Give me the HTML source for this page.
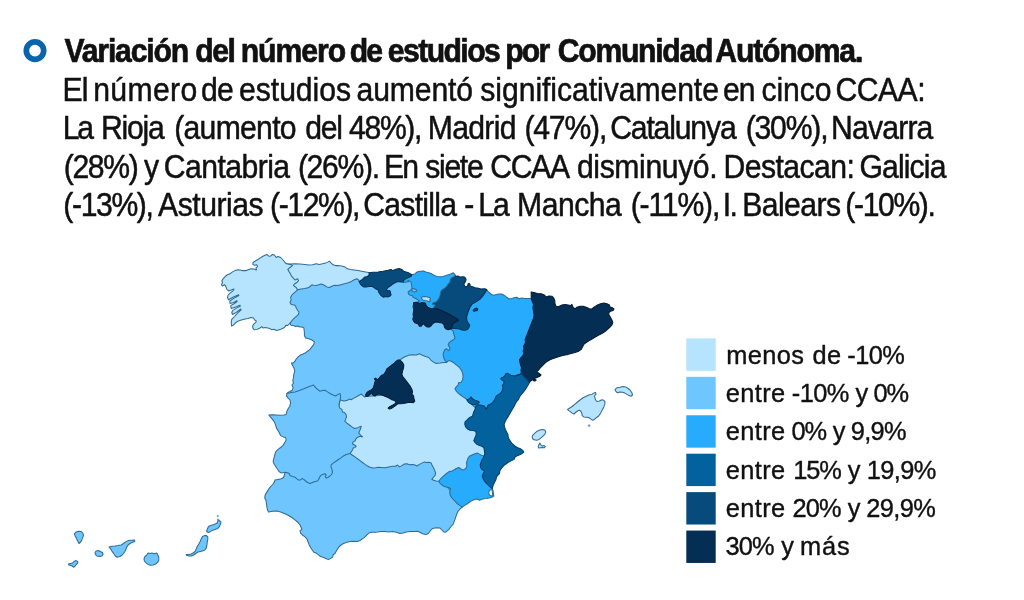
<!DOCTYPE html>
<html><head><meta charset="utf-8">
<style>
html,body{margin:0;padding:0;background:#fff;}
body{width:1024px;height:600px;position:relative;overflow:hidden;font-family:"Liberation Sans",sans-serif;color:#111;}
</style></head><body>
<svg style="position:absolute;left:0;top:0;will-change:transform" width="1024" height="600" viewBox="0 0 1024 600">
<circle cx="35" cy="50.6" r="8.7" fill="none" stroke="#0a64ac" stroke-width="5.7"/>
<path d="M290.1,323.3 291.0,325.2 293.3,325.6 295.7,326.6 297.6,326.1 299.9,327.0 302.2,327.0 303.9,328.0 304.4,332.5 304.4,335.6 305.6,338.1 308.8,338.8 311.9,340.0 314.4,341.9 313.8,344.4 311.9,346.9 310.0,349.4 307.5,351.2 305.6,352.8 303.1,354.0 300.6,355.0 298.1,356.9 296.2,359.0 295.0,361.2 293.1,363.1 291.5,363.1 292.5,365.6 294.0,368.1 294.8,371.2 293.8,374.4 293.5,377.5 292.8,380.6 293.5,383.1 291.9,385.0 293.1,387.5 292.5,390.0 290.0,391.5 287.5,392.8 286.9,393.5 300.0,402.0 345.0,412.0 385.0,395.0 420.0,385.0 455.0,372.0 465.0,335.0 445.0,300.0 425.0,280.0 400.0,275.0 385.0,275.0 360.0,274.0 300.0,276.0 285.0,290.0 283.0,300.0Z" fill="#6fc6fe" stroke="#2f6c94" stroke-width="1.05" stroke-linejoin="round"/>
<path d="M340.2,399.4 341.2,400.2 343.8,401.0 346.9,400.6 349.4,399.0 351.2,399.8 353.8,398.1 356.9,396.5 359.4,395.0 361.2,394.0 363.1,395.6 364.4,396.9 366.0,396.5 385.0,395.0 399.0,360.0 401.2,359.0 403.8,357.2 406.2,356.2 409.4,355.0 412.5,354.8 416.2,355.0 419.4,353.8 422.5,355.2 425.6,356.5 428.8,357.5 430.6,359.8 433.1,361.9 436.2,363.5 440.0,363.1 443.8,362.5 446.5,362.5 452.0,352.0 470.0,360.0 485.0,405.0 492.0,460.0 450.0,492.0 400.0,484.0 345.0,466.0 336.0,420.0Z" fill="#b6e3fd" stroke="#2f6c94" stroke-width="1.05" stroke-linejoin="round"/>
<path d="M486.6,289.6 488.5,291.9 491.0,294.0 492.9,295.2 495.4,294.8 498.5,294.0 501.6,294.0 504.1,295.2 506.6,297.2 509.1,299.0 511.6,298.5 514.1,297.8 516.6,297.2 519.1,298.8 521.6,298.1 524.8,298.5 528.5,298.5 531.2,298.5 545.0,310.0 540.0,340.0 535.0,372.0 510.0,390.0 495.0,402.0 480.0,412.0 466.9,399.8 465.6,398.5 463.1,396.9 460.6,395.0 458.1,393.1 456.2,391.0 455.0,388.8 456.2,386.9 458.1,385.0 458.8,382.5 461.2,382.2 462.5,380.0 463.1,376.9 462.8,373.8 461.9,371.2 460.6,369.0 458.8,366.9 456.2,364.8 453.8,362.8 451.2,361.2 448.8,360.6 446.5,362.2 445.6,361.2 444.4,359.4 443.5,356.9 443.1,354.4 443.8,351.9 444.8,349.8 446.5,348.8 448.8,350.6 450.0,348.8 449.4,346.9 448.1,345.0 449.0,342.8 451.0,341.2 453.1,340.0 455.0,338.1 454.4,336.2 453.8,333.8 453.1,331.2 451.2,329.0 458.0,320.0 475.0,300.0Z" fill="#27abfd" stroke="#2f6c94" stroke-width="1.05" stroke-linejoin="round"/>
<path d="M285.2,472.2 284.4,475.0 283.5,477.5 281.2,478.8 278.1,479.4 275.0,480.0 274.4,481.9 273.1,484.0 271.2,486.0 269.4,488.1 267.8,490.6 266.2,493.1 265.0,495.6 264.8,498.1 266.0,500.6 266.5,503.8 266.9,506.9 267.5,510.0 268.5,511.9 268.8,511.9 272.5,511.2 276.9,511.0 280.6,511.9 284.4,513.5 288.1,515.2 291.9,517.5 295.0,519.8 298.1,522.5 300.0,525.0 301.2,527.5 301.9,529.4 300.0,530.6 300.6,533.1 302.5,535.0 305.0,536.9 306.9,538.8 307.8,541.2 309.0,544.4 310.6,547.5 312.2,550.0 313.8,552.2 316.2,553.1 318.5,554.8 320.6,556.5 323.8,557.5 326.2,558.8 328.8,559.4 331.2,558.1 332.8,556.9 333.1,554.8 335.0,553.5 336.2,551.2 337.5,549.0 339.0,546.9 341.0,545.0 343.5,543.5 346.9,542.2 350.0,541.5 353.8,541.2 357.5,541.5 360.0,540.6 362.5,538.8 365.0,536.9 366.9,534.8 368.8,533.1 371.9,532.2 375.0,532.2 377.5,532.0 381.2,531.5 385.0,531.5 388.8,531.9 392.5,531.5 396.2,532.2 400.0,533.5 403.1,533.1 406.2,531.9 410.0,531.5 413.8,531.5 417.5,531.2 420.0,532.2 422.5,533.8 425.6,534.4 428.1,533.8 430.0,531.2 431.9,529.0 434.4,528.1 437.5,527.8 440.0,528.1 441.9,530.0 443.8,531.9 445.6,532.2 447.5,530.6 449.4,528.8 451.2,526.2 453.1,524.4 454.0,521.9 455.0,519.4 456.0,516.2 456.9,513.8 458.1,511.2 460.0,509.0 462.2,507.2 455.0,495.0 445.0,485.0 438.8,481.2 436.2,481.0 433.8,480.2 431.9,479.4 433.1,477.5 435.0,475.6 435.6,473.1 434.8,470.6 433.5,467.8 432.2,465.6 431.2,463.1 428.8,462.2 426.2,462.5 424.4,461.9 421.9,463.1 419.4,464.4 416.9,466.0 415.0,465.0 412.5,464.4 409.4,464.8 406.9,463.8 404.4,464.0 401.9,465.6 399.4,466.9 397.5,465.0 395.6,466.2 392.5,466.2 388.8,466.9 385.0,467.8 381.2,467.5 378.1,467.2 375.6,467.8 373.1,468.1 370.0,467.2 367.5,466.0 365.0,464.4 362.5,462.5 360.0,460.6 357.5,458.8 355.0,456.9 352.5,455.2 350.0,453.5 335.0,440.0 300.0,450.0Z" fill="#6fc6fe" stroke="#2f6c94" stroke-width="1.05" stroke-linejoin="round"/>
<path d="M286.9,393.5 286.5,396.2 288.1,398.1 290.0,400.0 290.6,403.1 289.8,406.2 288.1,408.8 286.9,411.2 286.2,414.4 283.8,415.0 280.0,415.2 276.2,415.0 272.5,414.8 268.8,415.0 270.6,417.2 272.5,419.4 274.4,421.9 275.6,425.0 276.5,428.1 278.1,430.6 279.4,433.1 280.6,435.6 283.1,436.9 285.6,437.5 286.2,440.0 284.4,443.1 282.8,445.6 280.6,447.5 278.1,449.4 275.6,451.9 274.8,455.0 274.0,458.1 273.1,461.2 274.0,463.8 275.6,466.2 277.2,468.8 278.8,471.2 280.6,472.8 283.1,472.8 285.2,472.2 287.5,472.8 289.4,473.8 290.0,475.6 292.5,476.5 295.0,477.2 296.9,478.8 298.8,480.2 300.6,479.8 301.9,478.5 303.8,479.4 305.6,481.0 307.5,482.5 310.0,483.5 312.5,482.5 315.0,481.5 317.5,481.0 318.8,479.4 319.4,477.5 320.6,475.6 322.5,474.4 324.8,473.8 326.2,474.8 325.2,476.5 326.2,478.1 328.1,477.2 330.0,476.0 331.9,474.0 332.5,471.9 331.9,469.4 331.0,466.9 331.2,464.8 333.1,463.1 335.6,461.5 338.1,459.8 340.6,458.1 343.1,456.2 345.6,454.8 348.1,454.0 350.0,453.5 351.2,451.9 352.5,450.0 353.1,448.1 355.0,447.5 356.2,446.2 354.4,445.0 352.5,443.8 353.1,441.9 355.0,441.0 356.0,438.8 357.8,437.2 360.0,436.2 362.5,436.9 360.6,435.0 358.8,433.1 359.4,431.2 360.6,428.8 361.2,426.2 359.4,426.9 356.9,428.1 354.4,428.5 351.9,426.9 349.4,425.0 346.9,423.1 344.8,421.2 345.6,419.4 346.5,416.9 346.0,414.4 344.4,412.5 342.5,411.9 341.9,409.4 339.8,408.1 339.0,405.6 339.4,402.5 340.2,399.4 340.6,396.2 340.0,393.5 338.1,394.4 335.6,396.0 332.5,394.8 330.0,393.5 327.5,391.9 325.0,390.2 322.5,390.6 320.0,391.2 317.5,389.4 315.0,386.9 313.5,385.0 311.9,385.6 308.1,386.9 303.8,388.8 299.4,390.6 295.0,391.9 291.2,392.5Z" fill="#6fc6fe" stroke="#2f6c94" stroke-width="1.05" stroke-linejoin="round"/>
<path d="M462.2,507.2 464.4,505.6 466.9,504.0 469.4,502.2 471.9,500.6 475.0,499.4 477.5,499.0 479.4,500.2 481.2,499.4 483.8,498.8 486.9,498.5 490.0,497.8 492.5,496.9 493.8,496.0 493.5,493.8 493.1,491.2 492.5,488.8 492.0,478.0 488.0,462.0 484.0,456.0 481.9,455.6 480.0,454.4 477.5,453.1 475.0,453.8 471.9,455.0 469.4,456.2 468.1,458.1 467.2,460.6 466.5,463.1 466.9,465.6 466.2,467.8 464.4,469.4 462.5,470.0 460.6,468.8 458.8,467.5 456.2,468.5 454.4,469.8 451.9,471.0 449.4,471.5 446.9,473.1 444.8,475.0 442.5,476.9 440.6,478.8 438.8,481.2 440.0,483.1 441.9,485.0 443.8,486.2 446.2,486.9 448.8,487.5 450.6,488.8 449.8,491.2 450.0,494.4 451.2,496.9 452.8,499.0 455.0,501.2 457.5,503.8 460.0,505.6Z" fill="#27abfd" stroke="#2f6c94" stroke-width="1.05" stroke-linejoin="round"/>
<path d="M531.2,291.9 533.8,292.5 537.5,293.5 541.2,293.8 544.4,295.0 546.2,296.9 548.8,296.0 551.9,296.2 553.8,298.1 554.8,300.6 555.0,303.8 556.0,306.2 558.8,306.5 561.9,305.0 565.0,304.4 568.1,305.0 570.6,305.6 571.9,304.4 573.1,307.5 575.0,308.8 576.9,307.2 580.0,306.2 583.1,306.2 586.2,307.2 589.4,308.8 591.9,309.0 594.4,306.9 597.5,305.0 600.6,303.8 603.8,303.1 606.9,303.8 609.4,305.0 610.0,306.9 612.5,307.8 614.0,309.0 613.1,310.6 610.6,311.2 608.8,312.8 609.0,315.0 610.6,317.5 611.9,320.0 612.8,322.5 611.9,325.0 610.0,327.2 607.5,329.4 605.0,331.5 601.9,333.5 598.8,335.0 595.6,336.9 592.5,338.8 589.4,340.6 586.2,342.5 583.8,344.4 582.5,346.9 581.2,349.4 578.8,351.2 575.0,352.5 571.2,353.5 567.5,354.5 568.0,354.4 563.8,355.2 560.0,356.2 556.2,357.5 552.5,358.8 550.0,359.8 547.5,361.2 545.0,363.1 542.5,365.6 540.0,368.1 538.1,370.6 536.2,372.2 538.8,373.1 541.0,375.0 539.4,376.5 536.9,377.5 534.4,378.5 532.5,379.8 530.6,381.0 529.8,381.9 520.0,385.0 515.0,376.0 521.5,373.5 521.0,370.6 521.5,367.5 520.6,365.0 520.0,362.5 519.4,360.0 520.6,358.1 522.5,356.2 523.8,353.8 523.1,351.2 524.0,348.8 523.5,346.2 525.0,343.8 525.6,341.2 525.0,340.0 533.5,318.1 534.1,315.0 533.5,311.2 532.9,307.5 533.5,304.4 532.2,301.2 531.2,298.5Z" fill="#052e54" stroke="#031d36" stroke-width="1.05" stroke-linejoin="round"/>
<path d="M529.8,381.9 528.8,383.8 527.5,386.0 526.2,388.1 525.0,390.0 523.5,391.9 521.9,393.8 520.2,396.0 519.0,398.1 518.1,400.0 516.9,401.2 515.6,403.1 514.8,405.0 514.8,405.0 513.5,407.5 511.6,410.6 509.8,413.8 507.9,416.9 506.2,419.4 505.0,421.9 504.1,424.4 504.5,426.9 505.4,429.4 506.6,431.9 507.9,434.4 508.2,436.9 509.1,439.4 510.8,441.9 512.5,444.0 514.8,446.0 517.2,447.5 520.4,448.8 522.9,450.6 523.8,452.2 521.6,453.8 519.1,455.0 516.6,456.0 514.8,457.2 514.1,459.4 511.6,460.6 509.1,461.9 506.6,463.5 504.1,465.2 502.5,467.2 501.0,468.8 499.8,471.0 499.5,473.5 497.9,475.0 496.6,476.9 495.8,480.0 494.4,482.5 493.1,485.6 492.2,488.5 490.0,486.9 488.1,485.0 486.2,483.1 484.4,481.0 483.1,478.8 482.2,476.2 483.1,473.8 484.4,471.2 481.5,469.0 480.6,467.5 480.2,465.0 481.0,462.5 481.9,460.0 483.1,458.1 484.0,456.0 484.8,453.8 484.4,450.6 483.8,447.5 481.9,446.2 479.4,445.6 476.9,444.4 475.0,442.5 473.8,440.6 474.8,438.1 476.0,435.6 476.2,433.1 475.6,431.2 473.1,430.6 470.0,430.2 467.5,429.0 465.6,426.9 464.8,424.4 465.0,421.9 466.9,420.0 468.8,418.1 470.6,416.9 472.5,416.2 473.1,413.8 474.0,411.2 474.0,412.5 474.8,410.0 475.6,407.5 476.2,405.0 478.8,404.8 481.2,405.2 484.4,406.0 486.2,409.4 487.5,406.9 488.1,405.0 490.0,404.4 491.9,403.1 493.8,401.2 495.0,398.8 496.2,396.2 498.1,394.8 500.0,393.8 501.5,391.9 502.5,389.8 503.1,387.5 502.2,385.6 503.8,383.8 504.0,381.2 502.5,380.2 501.0,379.4 501.2,377.8 503.1,377.2 504.8,376.0 505.6,374.0 507.5,373.1 509.4,374.4 511.9,375.6 515.0,376.0 518.1,375.2 520.0,374.4 521.5,373.5 523.1,375.6 525.0,377.5 526.9,379.4 528.1,381.2Z" fill="#03619e" stroke="#033f6b" stroke-width="1.05" stroke-linejoin="round"/>
<path d="M466.9,399.8 469.4,398.8 471.0,396.9 472.5,398.8 475.0,400.2 477.5,401.0 479.4,402.2 477.5,403.8 475.0,404.4 471.9,404.4 469.4,403.1 467.8,401.5Z" fill="#03619e" stroke="#033f6b" stroke-width="1.05" stroke-linejoin="round"/>
<path d="M455.2,275.3 456.3,276.4 457.9,276.0 459.5,276.8 461.0,277.1 462.6,276.8 464.6,277.1 465.7,278.3 466.1,279.9 465.3,281.9 464.2,283.4 464.0,285.0 464.9,286.2 466.5,286.6 467.7,285.8 468.1,283.8 469.3,283.4 470.1,284.6 469.6,285.8 471.2,286.2 473.2,286.9 475.1,287.7 477.2,288.1 481.0,289.0 484.8,288.8 486.6,289.6 486.0,291.2 484.8,293.1 483.5,295.0 481.6,297.5 479.8,299.4 477.2,301.0 474.8,302.5 472.2,304.0 471.0,305.6 469.8,307.5 468.8,310.0 467.9,312.5 467.2,315.0 466.6,317.5 466.9,320.6 468.1,323.1 469.8,325.0 468.8,327.5 467.5,329.4 465.0,330.2 461.9,330.0 460.0,329.0 457.5,328.8 455.0,328.5 452.5,328.1 451.2,329.0 440.0,318.0 425.0,305.0 432.0,296.0 435.2,305.0 434.4,304.2 432.8,304.6 432.4,303.4 433.6,302.6 435.2,302.2 436.7,301.8 437.1,300.6 438.3,299.5 439.1,297.9 439.9,295.9 440.3,294.0 440.7,292.0 441.4,290.5 443.0,289.3 445.4,287.7 446.9,286.2 447.7,284.6 449.3,283.0 450.1,281.1 450.5,279.1 452.0,277.5 454.0,276.8Z" fill="#064b7b" stroke="#04304f" stroke-width="1.05" stroke-linejoin="round"/>
<path d="M412.9,274.4 414.8,274.0 416.0,272.8 417.6,271.7 420.3,271.3 423.4,270.9 425.8,271.9 428.9,272.8 432.0,274.0 434.4,275.6 436.7,276.6 439.9,276.8 443.0,276.4 446.1,275.6 449.3,274.6 451.6,273.5 453.2,272.8 454.4,273.8 455.2,275.3 454.0,276.8 452.0,277.5 450.5,279.1 450.1,281.1 449.3,283.0 447.7,284.6 446.9,286.2 445.4,287.7 443.0,289.3 441.4,290.5 440.7,292.0 440.3,294.0 439.9,295.9 439.1,297.9 438.3,299.5 437.1,300.6 436.7,301.8 435.2,302.2 433.6,302.6 432.4,303.4 432.8,304.6 434.4,304.2 435.2,305.0 432.0,310.0 420.0,308.0 414.2,302.8 417.2,302.4 419.5,301.0 417.9,299.9 415.2,298.3 412.9,297.1 412.4,295.6 410.1,295.2 408.5,294.0 408.1,292.0 410.1,290.5 412.1,288.5 411.7,285.4 410.9,281.9 407.8,280.3 408.4,281.8 403.5,282.6 402.5,279.0 400.0,276.0 408.0,274.5Z" fill="#27abfd" stroke="#2f6c94" stroke-width="1.05" stroke-linejoin="round"/>
<path d="M412.1,288.5 414.0,288.7 416.0,289.7 416.8,290.6 416.0,291.6 414.4,292.0 412.9,291.4 411.7,290.5Z" fill="#6fc6fe" stroke="#2f6c94" stroke-width="1.05" stroke-linejoin="round"/>
<path d="M413.8,302.5 416.9,302.2 419.4,303.5 421.9,302.5 425.0,303.1 426.2,305.6 428.1,307.5 430.6,308.5 433.8,308.8 436.9,308.8 439.4,309.8 442.5,311.0 445.6,312.5 448.8,314.0 451.9,316.0 455.0,317.8 457.5,319.0 458.5,320.2 456.9,321.5 454.4,322.5 452.5,324.4 451.9,326.9 450.6,329.0 448.1,329.8 445.6,328.8 444.4,326.9 444.0,324.8 442.5,323.1 440.0,322.8 437.5,321.9 435.0,322.2 432.8,323.5 431.2,325.6 429.8,326.9 426.9,326.9 425.0,325.6 424.4,323.8 422.5,324.4 421.2,326.2 419.4,326.2 418.5,324.4 416.9,323.5 414.8,322.8 413.5,321.0 412.8,319.0 413.5,316.9 413.1,314.4 413.5,311.9 413.8,309.4 413.1,306.9 413.5,304.4Z" fill="#052e54" stroke="#031d36" stroke-width="1.05" stroke-linejoin="round"/>
<path d="M286.5,263.8 290.0,264.0 295.0,263.8 300.0,264.0 305.0,264.4 308.8,265.0 312.5,264.8 316.2,263.8 319.4,264.4 322.5,263.8 325.6,263.1 328.1,261.9 329.4,261.2 331.2,263.1 333.1,264.8 335.6,265.6 338.0,265.6 341.8,266.0 344.9,266.9 347.4,268.8 350.5,269.4 354.2,270.0 358.0,270.6 363.0,271.5 368.6,272.5 372.0,276.0 372.0,284.0 359.2,281.5 358.6,280.0 356.8,278.8 354.2,279.8 351.8,281.2 349.2,282.5 345.5,283.5 341.8,284.4 338.0,285.6 334.4,285.2 331.9,286.2 329.4,287.5 326.9,286.9 323.8,285.0 321.2,284.0 318.8,284.8 316.2,285.6 313.8,285.2 311.9,284.8 308.8,287.5 305.0,288.5 301.2,289.0 297.5,289.8 292.0,285.0 288.0,270.0Z" fill="#b6e3fd" stroke="#2f6c94" stroke-width="1.05" stroke-linejoin="round"/>
<path d="M369.0,272.8 373.0,272.2 378.0,271.9 383.0,271.2 388.0,270.2 391.1,269.4 392.4,270.6 394.2,270.0 396.8,269.0 399.2,268.5 401.8,269.4 403.6,271.2 406.1,271.9 409.2,273.1 411.8,274.8 411.1,276.2 408.0,277.8 405.5,278.8 403.6,280.6 403.0,282.1 400.5,281.9 398.0,281.5 394.9,282.8 392.4,284.4 389.9,286.2 387.4,288.1 386.5,290.0 388.0,291.0 389.9,290.6 390.5,292.5 391.1,295.0 389.9,296.2 387.4,296.9 385.5,296.5 383.6,297.2 381.1,295.6 379.9,294.0 378.6,291.9 378.0,289.8 375.5,288.8 373.6,287.2 371.8,286.2 369.2,286.5 366.1,286.9 363.6,286.9 361.8,285.6 360.2,283.8 359.2,281.5 360.5,280.6 363.0,279.0 364.2,277.2 367.4,276.5 369.2,275.0Z" fill="#064b7b" stroke="#04304f" stroke-width="1.05" stroke-linejoin="round"/>
<path d="M286.5,263.8 285.0,262.5 283.1,260.0 280.6,257.5 278.1,256.5 276.2,257.5 274.4,255.0 272.5,254.4 270.6,256.0 268.8,256.2 266.9,254.4 265.0,255.2 262.5,256.5 260.0,258.1 257.5,259.8 255.0,261.2 253.1,262.5 252.8,264.4 254.4,265.2 256.9,264.8 257.5,266.5 256.0,268.1 256.5,270.0 253.8,269.0 251.2,268.8 248.8,269.4 246.2,270.6 242.5,270.6 238.1,269.8 235.0,270.6 232.5,271.9 230.0,273.8 226.9,275.0 224.8,276.9 223.1,278.8 221.9,280.6 222.5,282.5 221.5,284.8 222.5,286.0 224.8,284.8 226.0,286.9 226.9,289.4 228.8,291.0 231.9,289.8 234.0,289.0 233.0,290.8 230.0,293.1 228.1,295.0 227.5,297.5 228.5,299.8 233.5,297.0 238.5,294.8 238.9,295.5 234.2,298.1 229.8,301.0 230.0,303.5 233.8,302.5 236.8,300.6 237.1,301.5 234.0,303.8 231.0,305.4 230.8,307.0 231.4,308.5 235.6,307.0 240.0,305.2 240.4,306.1 236.0,308.4 232.5,310.6 231.8,313.0 232.6,314.5 236.9,311.9 240.8,309.0 241.1,309.9 237.5,313.2 234.5,316.5 232.2,318.8 231.5,320.0 231.3,321.9 231.5,326.1 233.3,325.2 235.7,322.8 238.5,320.9 241.3,320.0 244.1,319.2 247.9,318.6 251.2,317.4 253.5,317.9 254.4,319.8 256.3,320.9 255.8,322.3 254.0,323.8 252.6,326.1 253.0,328.4 254.4,329.8 257.2,329.4 259.6,328.2 261.9,326.6 262.9,328.0 265.2,327.5 267.6,328.0 269.9,328.6 271.8,329.8 274.1,329.2 276.5,330.5 278.3,330.1 280.7,329.2 283.0,328.2 284.9,327.0 285.8,325.2 287.7,325.4 289.6,323.6 291.0,321.9 292.4,320.0 294.3,318.1 296.6,316.2 298.5,314.4 299.0,312.0 297.6,310.2 296.4,308.3 295.7,306.4 294.4,305.0 291.2,304.4 290.0,302.5 291.2,300.0 290.6,297.5 291.9,295.0 293.8,293.1 296.2,291.2 297.5,289.8 296.2,287.5 293.5,285.6 294.4,284.0 296.9,282.5 298.5,280.6 297.5,278.8 295.0,280.0 293.1,277.8 291.2,275.6 290.0,273.1 288.8,271.2 287.8,269.4 290.0,267.5 292.5,265.6 291.2,264.8Z" fill="#b6e3fd" stroke="#2f6c94" stroke-width="1.05" stroke-linejoin="round"/>
<path d="M398.1,360.0 400.6,360.6 402.5,362.5 403.8,365.0 403.5,368.1 402.5,371.2 401.9,374.4 403.1,377.2 405.0,379.4 406.9,381.9 408.8,384.4 410.6,386.9 411.9,389.4 412.5,391.9 411.9,394.4 413.5,395.6 414.0,398.8 414.8,401.2 413.1,402.8 410.0,402.2 406.9,402.8 403.8,403.5 400.6,403.8 398.1,403.5 396.2,405.0 393.8,406.9 391.2,408.5 389.4,409.0 388.1,408.1 390.0,406.5 392.5,405.2 395.0,403.8 396.2,401.9 394.4,400.6 391.2,399.4 388.1,397.5 385.0,396.2 381.9,395.0 379.4,394.0 376.9,394.4 375.0,396.0 373.1,395.2 371.9,393.5 370.0,394.4 368.1,396.0 366.0,396.5 365.6,394.8 366.9,392.5 368.8,391.2 371.2,390.0 373.1,388.1 374.0,385.6 374.8,382.5 375.6,380.6 374.4,379.0 375.6,378.1 377.5,379.8 379.4,377.8 381.2,375.6 383.8,374.4 385.6,371.9 386.9,368.8 389.4,366.9 391.9,365.0 394.4,363.1 396.2,361.2Z" fill="#052e54" stroke="#031d36" stroke-width="1.05" stroke-linejoin="round"/>
<path d="M421.5,297.9 422.6,296.7 425.0,296.5 427.3,297.0 429.7,297.5 430.5,298.7 429.7,299.9 430.5,301.0 429.3,301.7 427.3,300.9 425.0,300.6 423.0,299.9 421.9,299.1Z" fill="#b6e3fd" stroke="#2f6c94" stroke-width="1.05" stroke-linejoin="round"/>
<path d="M473.1,310.2 474.8,308.8 476.5,308.1 477.8,309.0 477.2,310.6 475.6,310.6 474.0,311.5Z" fill="#064b7b" stroke="#04304f" stroke-width="1.05" stroke-linejoin="round"/>
<path d="M488.8,492.0 489.5,490.2 491.2,489.5 492.2,490.6 492.5,493.0 492.7,495.3 491.5,496.0 490.0,495.5 489.0,494.0Z" fill="#ffffff" stroke="#2f6c94" stroke-width="1.05" stroke-linejoin="round"/>
<path d="M533.1,380.2 534.4,379.6 536.0,379.8 535.8,380.8 534.0,381.0Z" fill="#052e54" stroke="#031d36" stroke-width="1.05" stroke-linejoin="round"/>
<path d="M532.2,436.9 532.9,435.0 534.8,433.1 537.2,431.2 539.8,430.0 542.5,429.4 544.8,430.0 545.8,431.9 544.8,434.4 542.9,436.2 541.0,437.8 539.1,439.4 536.6,440.2 534.1,439.8 532.5,438.5Z" fill="#b6e3fd" stroke="#2f6c94" stroke-width="1.05" stroke-linejoin="round"/>
<path d="M538.2,446.9 538.8,444.8 539.8,443.1 540.8,444.8 542.2,446.0 544.1,445.6 545.4,446.5 544.5,447.8 542.2,447.5 540.4,447.8 538.8,448.1Z" fill="#b6e3fd" stroke="#2f6c94" stroke-width="1.05" stroke-linejoin="round"/>
<path d="M567.5,409.4 570.6,407.5 573.8,405.2 576.9,402.5 580.0,400.0 583.1,397.8 586.2,396.2 589.4,394.8 591.9,394.4 593.8,393.1 595.6,392.5 596.0,394.4 594.4,396.0 595.0,397.8 595.6,400.0 596.9,401.5 599.4,401.0 601.9,399.8 603.8,400.2 605.0,401.9 604.8,404.4 603.8,406.9 602.5,409.4 601.2,411.9 599.8,414.4 598.5,416.2 596.2,417.8 594.4,419.4 592.5,420.2 590.6,418.8 588.8,417.5 586.2,417.2 583.8,416.9 582.2,415.6 581.9,413.5 581.0,411.5 579.4,410.2 577.5,411.0 575.6,412.5 574.0,414.0 572.2,413.1 570.6,411.9 568.8,410.6Z" fill="#b6e3fd" stroke="#2f6c94" stroke-width="1.05" stroke-linejoin="round"/>
<path d="M615.0,389.4 616.9,387.8 620.0,387.2 623.1,386.5 625.6,386.9 628.1,388.5 630.2,390.2 631.9,392.8 632.5,395.0 631.2,396.2 629.0,395.6 626.9,394.4 624.8,393.1 622.5,392.2 620.0,391.9 617.5,392.8 616.0,391.5Z" fill="#b6e3fd" stroke="#2f6c94" stroke-width="1.05" stroke-linejoin="round"/>
<path d="M74.4,533.8 76.2,531.9 78.8,531.2 81.2,531.5 82.8,533.1 83.5,535.6 82.5,538.1 81.5,540.6 80.2,542.5 79.0,543.5 77.8,541.2 76.5,538.5 75.2,536.0Z" fill="#6fc6fe" stroke="#2f6c94" stroke-width="1.05" stroke-linejoin="round"/>
<path d="M95.0,552.5 96.2,551.0 98.5,550.6 100.6,551.5 102.5,552.8 103.1,554.4 101.9,556.0 99.4,556.5 96.9,556.0 95.4,554.4Z" fill="#6fc6fe" stroke="#2f6c94" stroke-width="1.05" stroke-linejoin="round"/>
<path d="M68.5,564.0 70.6,563.5 72.5,563.1 74.0,561.5 76.0,560.6 77.8,561.5 77.5,563.1 76.0,564.8 74.8,566.5 73.5,567.2 72.2,566.0 70.2,565.2 68.8,565.0Z" fill="#6fc6fe" stroke="#2f6c94" stroke-width="1.05" stroke-linejoin="round"/>
<path d="M109.0,546.9 111.9,546.2 115.0,546.0 118.1,545.6 121.2,545.0 123.5,543.5 125.6,541.9 128.1,540.6 131.2,540.2 134.4,540.0 134.8,541.5 132.5,542.2 130.0,543.5 128.1,545.0 126.9,546.9 126.0,549.0 125.0,551.2 123.5,553.5 121.9,555.2 119.8,556.5 117.2,557.2 115.6,556.2 114.0,554.0 112.5,551.9 111.0,549.4Z" fill="#6fc6fe" stroke="#2f6c94" stroke-width="1.05" stroke-linejoin="round"/>
<path d="M144.0,558.8 145.0,556.5 146.9,554.8 148.1,553.1 150.0,553.5 151.9,553.1 154.4,553.8 156.9,553.1 157.8,555.0 158.8,557.5 158.8,560.0 157.8,562.2 155.6,564.0 153.1,565.0 150.6,565.2 148.1,564.4 146.0,562.8 144.4,561.0Z" fill="#6fc6fe" stroke="#2f6c94" stroke-width="1.05" stroke-linejoin="round"/>
<path d="M206.5,531.2 207.5,528.8 208.5,526.5 210.6,525.6 213.1,524.8 215.6,523.8 217.2,523.1 217.8,521.0 219.4,520.6 221.0,521.9 220.6,523.8 219.8,525.6 218.8,527.5 216.9,528.8 214.4,529.8 211.9,530.6 209.8,531.9 208.1,532.5Z" fill="#6fc6fe" stroke="#2f6c94" stroke-width="1.05" stroke-linejoin="round"/>
<path d="M202.5,536.5 204.4,535.6 206.5,535.6 207.8,536.9 207.8,539.4 207.2,542.5 206.9,545.2 206.2,548.1 204.8,550.0 202.5,551.0 200.0,551.5 197.5,552.2 195.6,553.5 193.8,555.0 191.5,556.0 189.0,556.0 186.5,555.2 186.2,554.4 188.8,554.4 191.2,554.0 193.5,552.8 195.2,551.2 196.2,549.0 197.2,546.5 198.8,544.0 200.2,541.5 201.2,539.0Z" fill="#6fc6fe" stroke="#2f6c94" stroke-width="1.05" stroke-linejoin="round"/>
<circle cx="589.1" cy="425.6" r="0.9" fill="#b6e3fd" stroke="#3f6f8f" stroke-width="0.7"/>
<circle cx="217.8" cy="516.0" r="0.6" fill="#6fc6fe" stroke="#3f6f8f" stroke-width="0.7"/>
<circle cx="218.1" cy="519.8" r="0.8" fill="#6fc6fe" stroke="#3f6f8f" stroke-width="0.7"/>
<rect x="686.3" y="338.40" width="29.4" height="32.4" fill="#b6e3fd"/>
<rect x="686.3" y="376.83" width="29.4" height="32.4" fill="#6fc6fe"/>
<rect x="686.3" y="415.26" width="29.4" height="32.4" fill="#27abfd"/>
<rect x="686.3" y="453.69" width="29.4" height="32.4" fill="#03619e"/>
<rect x="686.3" y="492.12" width="29.4" height="32.4" fill="#064b7b"/>
<rect x="686.3" y="530.55" width="29.4" height="32.4" fill="#052e54"/>
<g font-family="Liberation Sans, sans-serif" fill="#111" stroke="#111" stroke-linejoin="round">
<text transform="translate(64.50,62.00) scale(0.92,1)" font-size="32.8" font-weight="bold" stroke-width="0.7" letter-spacing="-1.288">Variación</text>
<text transform="translate(195.33,62.00) scale(0.92,1)" font-size="32.8" font-weight="bold" stroke-width="0.7" letter-spacing="-1.620">del</text>
<text transform="translate(240.66,62.00) scale(0.92,1)" font-size="32.8" font-weight="bold" stroke-width="0.7" letter-spacing="-1.117">número</text>
<text transform="translate(349.83,62.00) scale(0.92,1)" font-size="32.8" font-weight="bold" stroke-width="0.7" letter-spacing="-2.299">de</text>
<text transform="translate(387.83,62.00) scale(0.92,1)" font-size="32.8" font-weight="bold" stroke-width="0.7" letter-spacing="-1.725">estudios</text>
<text transform="translate(505.16,62.00) scale(0.92,1)" font-size="32.8" font-weight="bold" stroke-width="0.7" letter-spacing="-1.902">por</text>
<text transform="translate(557.83,62.00) scale(0.92,1)" font-size="32.8" font-weight="bold" stroke-width="0.7" letter-spacing="-1.405">Comunidad</text>
<text transform="translate(715.33,62.00) scale(0.92,1)" font-size="32.8" font-weight="bold" stroke-width="0.7" letter-spacing="-1.299">Autónoma.</text>
<text transform="translate(62.59,100.70) scale(0.92,1)" font-size="32.8" stroke-width="0.5" letter-spacing="-1.114">El</text>
<text transform="translate(93.22,100.70) scale(0.92,1)" font-size="32.8" stroke-width="0.5" letter-spacing="0.386">número</text>
<text transform="translate(201.08,100.70) scale(0.92,1)" font-size="32.8" stroke-width="0.5" letter-spacing="-0.848">de</text>
<text transform="translate(239.08,100.70) scale(0.92,1)" font-size="32.8" stroke-width="0.5" letter-spacing="-0.062">estudios</text>
<text transform="translate(356.58,100.70) scale(0.92,1)" font-size="32.8" stroke-width="0.5" letter-spacing="-0.167">aumentó</text>
<text transform="translate(480.33,100.70) scale(0.92,1)" font-size="32.8" stroke-width="0.5" letter-spacing="-0.071">significativamente</text>
<text transform="translate(723.08,100.70) scale(0.92,1)" font-size="32.8" stroke-width="0.5" letter-spacing="-1.114">en</text>
<text transform="translate(761.58,100.70) scale(0.92,1)" font-size="32.8" stroke-width="0.5" letter-spacing="-0.158">cinco</text>
<text transform="translate(835.59,100.70) scale(0.92,1)" font-size="32.8" stroke-width="0.5" letter-spacing="-0.614">CCAA:</text>
<text transform="translate(62.65,139.20) scale(0.92,1)" font-size="32.8" stroke-width="0.5" letter-spacing="-2.273">La</text>
<text transform="translate(100.99,139.20) scale(0.92,1)" font-size="32.8" stroke-width="0.5" letter-spacing="-1.356">Rioja</text>
<text transform="translate(174.18,139.20) scale(0.92,1)" font-size="32.8" stroke-width="0.5" letter-spacing="-0.773">(aumento</text>
<text transform="translate(305.33,139.20) scale(0.92,1)" font-size="32.8" stroke-width="0.5" letter-spacing="-1.478">del</text>
<text transform="translate(349.08,139.20) scale(0.92,1)" font-size="32.8" stroke-width="0.5" letter-spacing="-1.478">48%),</text>
<text transform="translate(427.82,139.20) scale(0.92,1)" font-size="32.8" stroke-width="0.5" letter-spacing="-0.773">Madrid</text>
<text transform="translate(524.41,139.20) scale(0.92,1)" font-size="32.8" stroke-width="0.5" letter-spacing="-1.280">(47%),</text>
<text transform="translate(610.16,139.20) scale(0.92,1)" font-size="32.8" stroke-width="0.5" letter-spacing="-1.266">Catalunya</text>
<text transform="translate(745.66,139.20) scale(0.92,1)" font-size="32.8" stroke-width="0.5" letter-spacing="-1.280">(30%),</text>
<text transform="translate(830.99,139.20) scale(0.92,1)" font-size="32.8" stroke-width="0.5" letter-spacing="-0.884">Navarra</text>
<text transform="translate(63.66,177.70) scale(0.92,1)" font-size="32.8" stroke-width="0.5" letter-spacing="-1.435">(28%)</text>
<text transform="translate(143.89,177.70) scale(0.92,1)" font-size="32.8" stroke-width="0.5" letter-spacing="-0.935">y</text>
<text transform="translate(163.66,177.70) scale(0.92,1)" font-size="32.8" stroke-width="0.5" letter-spacing="-0.584">Cantabria</text>
<text transform="translate(297.89,177.70) scale(0.92,1)" font-size="32.8" stroke-width="0.5" letter-spacing="-1.435">(26%).</text>
<text transform="translate(383.91,177.70) scale(0.92,1)" font-size="32.8" stroke-width="0.5" letter-spacing="-1.935">En</text>
<text transform="translate(425.27,177.70) scale(0.92,1)" font-size="32.8" stroke-width="0.5" letter-spacing="-1.435">siete</text>
<text transform="translate(490.20,177.70) scale(0.92,1)" font-size="32.8" stroke-width="0.5" letter-spacing="-1.435">CCAA</text>
<text transform="translate(577.00,177.70) scale(0.92,1)" font-size="32.8" stroke-width="0.5" letter-spacing="-0.435">disminuyó.</text>
<text transform="translate(723.49,177.70) scale(0.92,1)" font-size="32.8" stroke-width="0.5" letter-spacing="-0.596">Destacan:</text>
<text transform="translate(859.41,177.70) scale(0.92,1)" font-size="32.8" stroke-width="0.5" letter-spacing="-0.935">Galicia</text>
<text transform="translate(63.36,216.20) scale(0.92,1)" font-size="32.8" stroke-width="0.5" letter-spacing="-1.524">(-13%),</text>
<text transform="translate(158.12,216.20) scale(0.92,1)" font-size="32.8" stroke-width="0.5" letter-spacing="-0.524">Asturias</text>
<text transform="translate(269.99,216.20) scale(0.92,1)" font-size="32.8" stroke-width="0.5" letter-spacing="-1.524">(-12%),</text>
<text transform="translate(363.16,216.20) scale(0.92,1)" font-size="32.8" stroke-width="0.5" letter-spacing="-0.780">Castilla</text>
<text transform="translate(464.31,216.20) scale(0.92,1)" font-size="32.8" stroke-width="0.5" letter-spacing="-1.024">-</text>
<text transform="translate(478.16,216.20) scale(0.92,1)" font-size="32.8" stroke-width="0.5" letter-spacing="-2.024">La</text>
<text transform="translate(517.00,216.20) scale(0.92,1)" font-size="32.8" stroke-width="0.5" letter-spacing="-0.524">Mancha</text>
<text transform="translate(630.66,216.20) scale(0.92,1)" font-size="32.8" stroke-width="0.5" letter-spacing="-1.268">(-11%),</text>
<text transform="translate(722.74,216.20) scale(0.92,1)" font-size="32.8" stroke-width="0.5" letter-spacing="-1.674">I.</text>
<text transform="translate(742.24,216.20) scale(0.92,1)" font-size="32.8" stroke-width="0.5" letter-spacing="-0.623">Balears</text>
<text transform="translate(845.36,216.20) scale(0.92,1)" font-size="32.8" stroke-width="0.5" letter-spacing="-1.524">(-10%).</text>
<text transform="translate(726.28,363.75) scale(0.955,1)" font-size="26.6" stroke-width="0.4" letter-spacing="0.348">menos</text>
<text transform="translate(812.54,363.75) scale(0.955,1)" font-size="26.6" stroke-width="0.4" letter-spacing="0.272">de</text>
<text transform="translate(847.33,363.75) scale(0.955,1)" font-size="26.6" stroke-width="0.4" letter-spacing="-0.652">-10%</text>
<text transform="translate(725.83,402.00) scale(0.955,1)" font-size="26.6" stroke-width="0.4" letter-spacing="0.348">entre</text>
<text transform="translate(791.83,402.00) scale(0.955,1)" font-size="26.6" stroke-width="0.4" letter-spacing="-0.652">-10%</text>
<text transform="translate(855.42,402.00) scale(0.955,1)" font-size="26.6" stroke-width="0.4" letter-spacing="-0.152">y</text>
<text transform="translate(873.55,402.00) scale(0.955,1)" font-size="26.6" stroke-width="0.4" letter-spacing="-1.152">0%</text>
<text transform="translate(725.83,440.20) scale(0.955,1)" font-size="26.6" stroke-width="0.4" letter-spacing="0.348">entre</text>
<text transform="translate(791.43,440.20) scale(0.955,1)" font-size="26.6" stroke-width="0.4" letter-spacing="-1.152">0%</text>
<text transform="translate(832.67,440.20) scale(0.955,1)" font-size="26.6" stroke-width="0.4" letter-spacing="-0.152">y</text>
<text transform="translate(850.68,440.20) scale(0.955,1)" font-size="26.6" stroke-width="0.4" letter-spacing="-0.652">9,9%</text>
<text transform="translate(725.83,478.60) scale(0.955,1)" font-size="26.6" stroke-width="0.4" letter-spacing="0.348">entre</text>
<text transform="translate(793.32,478.60) scale(0.955,1)" font-size="26.6" stroke-width="0.4" letter-spacing="-1.152">15%</text>
<text transform="translate(847.67,478.60) scale(0.955,1)" font-size="26.6" stroke-width="0.4" letter-spacing="-0.152">y</text>
<text transform="translate(866.73,478.60) scale(0.955,1)" font-size="26.6" stroke-width="0.4" letter-spacing="-0.652">19,9%</text>
<text transform="translate(725.83,517.00) scale(0.955,1)" font-size="26.6" stroke-width="0.4" letter-spacing="0.348">entre</text>
<text transform="translate(792.54,517.00) scale(0.955,1)" font-size="26.6" stroke-width="0.4" letter-spacing="-0.893">20%</text>
<text transform="translate(847.67,517.00) scale(0.955,1)" font-size="26.6" stroke-width="0.4" letter-spacing="-0.152">y</text>
<text transform="translate(866.33,517.00) scale(0.955,1)" font-size="26.6" stroke-width="0.4" letter-spacing="-0.652">29,9%</text>
<text transform="translate(725.54,555.20) scale(0.955,1)" font-size="26.6" stroke-width="0.4" letter-spacing="-0.893">30%</text>
<text transform="translate(781.29,555.20) scale(0.955,1)" font-size="26.6" stroke-width="0.4" letter-spacing="-0.152">y</text>
<text transform="translate(800.11,555.20) scale(0.955,1)" font-size="26.6" stroke-width="0.4" letter-spacing="0.848">más</text>
</g>
</svg>
</body></html>
